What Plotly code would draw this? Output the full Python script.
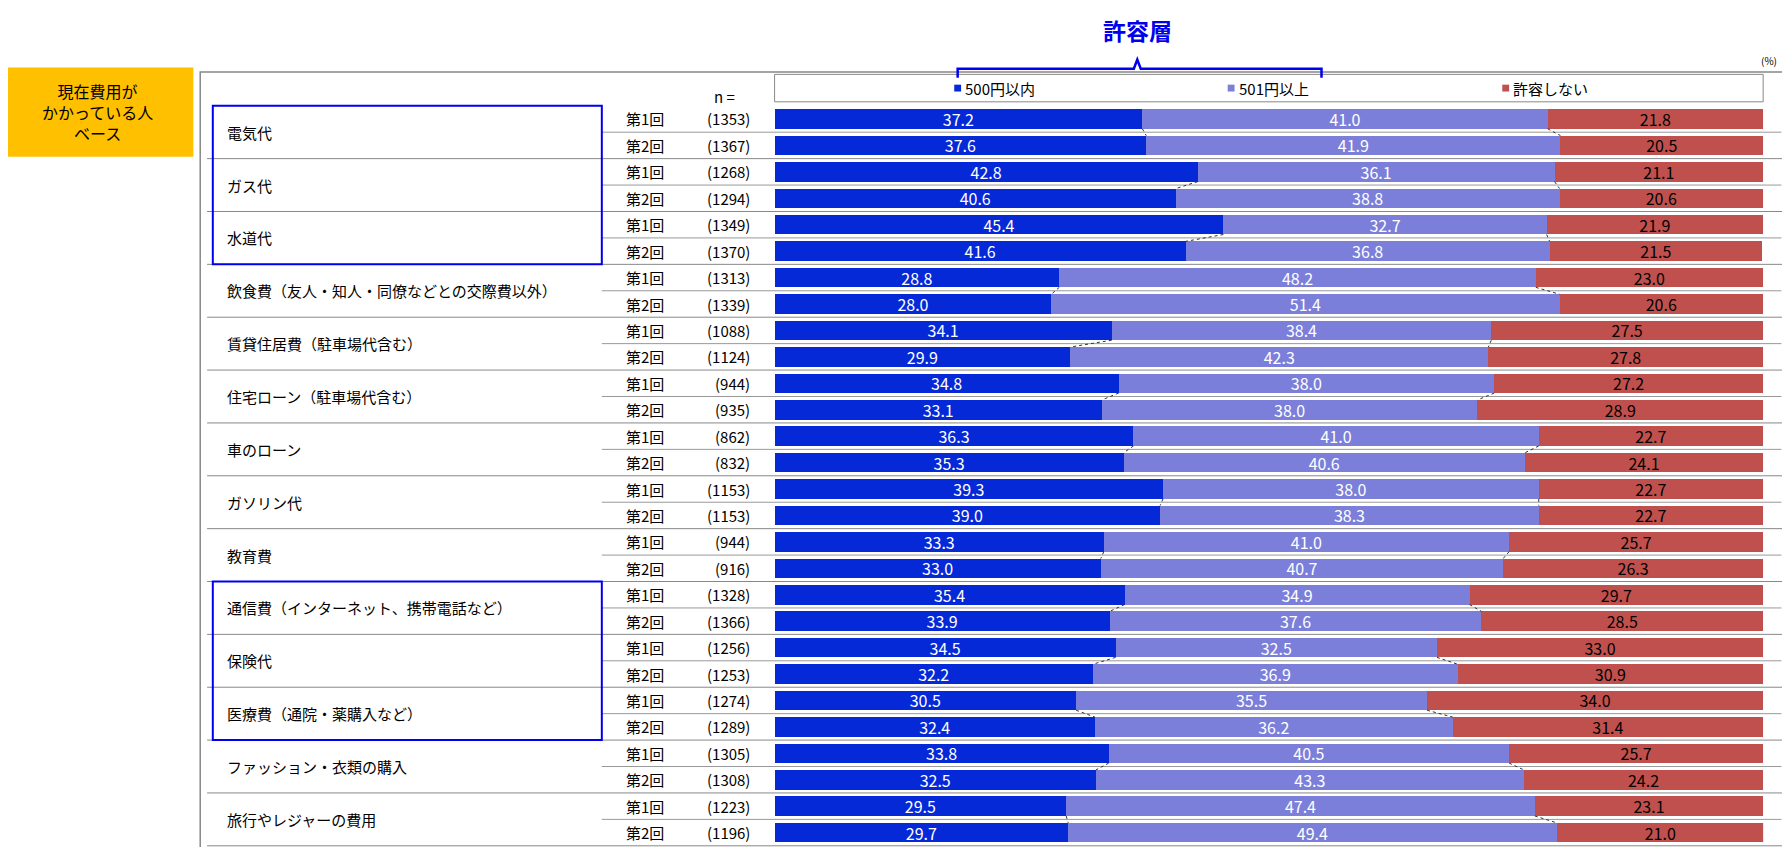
import plotly.graph_objects as go

categories = ["電気代", "ガス代", "水道代", "飲食費（友人・知人・同僚などとの交際費以外）",
              "賃貸住居費（駐車場代含む）", "住宅ローン（駐車場代含む）", "車のローン", "ガソリン代",
              "教育費", "通信費（インターネット、携帯電話など）", "保険代", "医療費（通院・薬購入など）",
              "ファッション・衣類の購入", "旅行やレジャーの費用",
              "電車・バス・タクシーなどの公共交通機関交通費<br>（会社支給など除いた個人での出費）"]
rounds = ["第1回", "第2回"]
within500 = [37.2, 37.6, 42.8, 40.6, 45.4, 41.6, 28.8, 28.0, 34.1, 29.9, 34.8, 33.1, 36.3, 35.3,
             39.3, 39.0, 33.3, 33.0, 35.4, 33.9, 34.5, 32.2, 30.5, 32.4, 33.8, 32.5, 29.5, 29.7, 42.1, 39.4]
over501 = [41.0, 41.9, 36.1, 38.8, 32.7, 36.8, 48.2, 51.4, 38.4, 42.3, 38.0, 38.0, 41.0, 40.6,
           38.0, 38.3, 41.0, 40.7, 34.9, 37.6, 32.5, 36.9, 35.5, 36.2, 40.5, 43.3, 47.4, 49.4, 30.1, 34.5]
notok = [21.8, 20.5, 21.1, 20.6, 21.9, 21.5, 23.0, 20.6, 27.5, 27.8, 27.2, 28.9, 22.7, 24.1,
         22.7, 22.7, 25.7, 26.3, 29.7, 28.5, 33.0, 30.9, 34.0, 31.4, 25.7, 24.2, 23.1, 21.0, 27.8, 26.2]
n_values = [1353, 1367, 1268, 1294, 1349, 1370, 1313, 1339, 1088, 1124, 944, 935, 862, 832,
            1153, 1153, 944, 916, 1328, 1366, 1256, 1253, 1274, 1289, 1305, 1308, 1223, 1196, 1217, 1220]
series_names = ["500円以内", "501円以上", "許容しない"]
colors = ["#0529d6", "#7b7fd9", "#c0504d"]

W, H = 1790, 847
def R(v): return (v - 6) / 0.874
def px(x): return R(x) / W
def py(y): return 1 - R(y) / H

N = len(within500)
ys = list(range(N))
fig = go.Figure()
for vals, col, tc in [(within500, colors[0], "white"), (over501, colors[1], "white"), (notok, colors[2], "black")]:
    fig.add_trace(go.Bar(x=vals, y=ys, orientation="h", marker=dict(color=col, line=dict(width=0)),
                         width=0.74, text=[f"{v:.1f}" for v in vals], textposition="inside",
                         insidetextanchor="middle", textfont=dict(color=tc, size=16),
                         showlegend=False, hoverinfo="skip"))

row_h = 23.1 / 0.874
top = R(103)
fig.update_layout(
    width=W, height=H, margin=dict(l=0, r=0, t=0, b=0), barmode="stack",
    plot_bgcolor="white", paper_bgcolor="white",
    font=dict(family="Noto Sans CJK JP", size=15, color="black"),
    xaxis=dict(domain=[px(676), px(1540)], range=[0, 100], visible=False, fixedrange=True),
    yaxis=dict(domain=[0, 1], range=[(H - top) / row_h, -top / row_h], visible=False),
    uniformtext=dict(minsize=10, mode="show"),
)

shapes, ann = [], []
def A(**k):
    k.setdefault("showarrow", False)
    k.setdefault("xanchor", "center")
    k.setdefault("yanchor", "middle")
    ann.append(k)

shapes.append(dict(type="rect", xref="paper", yref="paper", x0=px(174), x1=px(1560), y0=py(760), y1=py(62),
                   line=dict(color="#888", width=1.5)))
shapes.append(dict(type="rect", xref="paper", yref="paper", x0=px(676), x1=px(1540), y0=py(88), y1=py(64),
                   line=dict(color="#888", width=1)))
for name, col, xx in zip(series_names, colors, [838, 1077, 1317]):
    shapes.append(dict(type="rect", xref="paper", yref="paper", x0=px(xx - 5), x1=px(xx + 1),
                       y0=py(79), y1=py(73), fillcolor=col, line=dict(width=0)))
    A(x=px(xx + 3), y=py(76), xref="paper", yref="paper", text=name, xanchor="left", font=dict(size=15))
shapes.append(dict(type="path", xref="paper", yref="paper",
                   path=f"M {px(836)},{py(67)} L {px(836)},{py(59)} L {px(990)},{py(59)} L {px(993)},{py(51)} "
                        f"L {px(996)},{py(59)} L {px(1154)},{py(59)} L {px(1154)},{py(67)}",
                   line=dict(color="#0000ee", width=2.5)))
A(x=px(993), y=py(25), xref="paper", yref="paper", text="<b>許容層</b>", font=dict(size=23, color="#0000ee"))
A(x=px(1545), y=py(52), xref="paper", yref="paper", text="(%)", font=dict(size=10))
shapes.append(dict(type="rect", xref="paper", yref="paper", x0=0, x1=px(168), y0=py(136), y1=py(58),
                   fillcolor="#ffc000", line=dict(width=0)))
A(x=px(84), y=py(97), xref="paper", yref="paper", text="現在費用が<br>かかっている人<br>ベース", font=dict(size=16))
A(x=px(632), y=py(83), xref="paper", yref="paper", text="n =", font=dict(size=15))

for i in range(N):
    A(x=px(563), y=i, xref="paper", yref="y", text=rounds[i % 2], font=dict(size=15))
    A(x=px(656), y=i, xref="paper", yref="y", text=f"({n_values[i]})", xanchor="right", font=dict(size=15))
for g, c in enumerate(categories):
    A(x=px(196), y=2 * g + 0.5, xref="paper", yref="y", text=c, xanchor="left", align="left", font=dict(size=15))
    shapes.append(dict(type="line", xref="paper", yref="y", x0=px(525), x1=px(1556), y0=2 * g + 0.5, y1=2 * g + 0.5,
                       line=dict(color="#999", width=1)))
    if g < len(categories) - 1:
        shapes.append(dict(type="line", xref="paper", yref="y", x0=px(180), x1=px(1560), y0=2 * g + 1.5,
                           y1=2 * g + 1.5, line=dict(color="#888", width=1)))
    a, b = 2 * g, 2 * g + 1
    for xa, xb in [(within500[a], within500[b]), (within500[a] + over501[a], within500[b] + over501[b])]:
        shapes.append(dict(type="line", xref="x", yref="y", x0=xa, x1=xb, y0=a + 0.37, y1=b - 0.37,
                           line=dict(color="#333", width=1, dash="dot")))
for r0, r1 in [(0, 5), (18, 23)]:
    shapes.append(dict(type="rect", xref="paper", yref="y", x0=px(185), x1=px(525), y0=r0 - 0.5, y1=r1 + 0.5,
                       line=dict(color="#0000ee", width=2)))

fig.update_layout(shapes=shapes, annotations=ann)
fig.write_html("out.html")
